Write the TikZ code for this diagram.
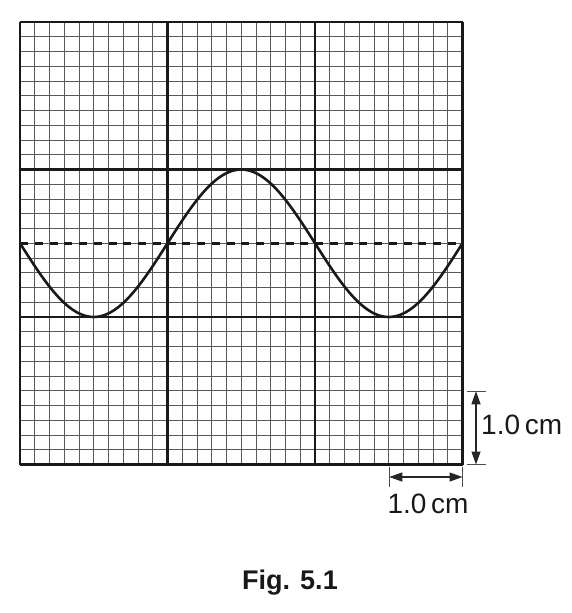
\documentclass[tikz,border=0pt]{standalone}
\usepackage{fontspec}
\setmainfont{Liberation Sans}
\usetikzlibrary{arrows.meta}
\begin{document}
\begin{tikzpicture}[x=1pt,y=-1pt,
  minor/.style={draw=black!65,line width=1pt},
  major/.style={draw=black!90,line width=2.2pt},
  wave/.style={draw=black!90,line width=2.6pt},
  midline/.style={draw=black!90,line width=2.8pt,dash pattern=on 8pt off 6.75pt},
  dimarrow/.style={draw=black!85,line width=1.3pt,{Triangle[length=13pt,width=9pt]}-{Triangle[length=13pt,width=9pt]}},
  ext/.style={draw=black!70,line width=1pt},
  lbl/.style={inner sep=0pt,font=\fontsize{28}{30}\selectfont,text=black!90}]
\useasboundingbox (0,0) rectangle (571,613);
% minor grid
\foreach \i in {0,...,30}{
  \draw[minor] ({20+\i*14.75},22) -- ({20+\i*14.75},464.5);
  \draw[minor] (20,{22+\i*14.75}) -- (462.5,{22+\i*14.75});
}
% major grid
\foreach \i in {0,10,20,30}{
  \draw[major] ({20+\i*14.75},22) -- ({20+\i*14.75},464.5);
  \draw[major] (20,{22+\i*14.75}) -- (462.5,{22+\i*14.75});
}
% dashed midline
\coordinate (mL) at (20,243.25);
\coordinate (mR) at (462.5,243.25);
\draw[midline] (mL) -- (mR);
% wave
\draw[wave] plot[domain=0:30,samples=151,smooth] ({20+\x*14.75},{243.25+73.75*sin(18*\x)});
% vertical dimension
\coordinate (vt) at (476,391.25);
\coordinate (vb) at (476,464.5);
\coordinate (vtl) at (467,391.25);
\coordinate (vtr) at (486,391.25);
\coordinate (vbl) at (467,464.5);
\coordinate (vbr) at (486,464.5);
\draw[ext] (vtl) -- (vtr);
\draw[ext] (vbl) -- (vbr);
\draw[dimarrow] (vt) -- (vb);
\node[lbl,anchor=base west] (vlab) at (481,434) {1.0\,cm};
% horizontal dimension
\coordinate (hl) at (389.25,477);
\coordinate (hr) at (462.5,477);
\coordinate (hlt) at (389.25,467);
\coordinate (hlb) at (389.25,487);
\coordinate (hrt) at (462.5,467);
\coordinate (hrb) at (462.5,487);
\draw[ext] (hlt) -- (hlb);
\draw[ext] (hrt) -- (hrb);
\draw[dimarrow] (hl) -- (hr);
\node[lbl,anchor=base] (hlab) at (428,513) {1.0\,cm};
% caption
\node[lbl,anchor=base,font=\fontsize{27}{30}\selectfont\bfseries] (cap) at (290,589) {Fig. 5.1};
\end{tikzpicture}
\end{document}
